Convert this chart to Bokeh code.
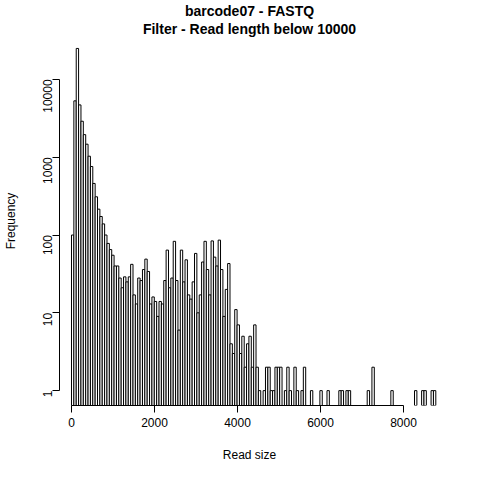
import math
from bokeh.plotting import figure
from bokeh.models import Title, FixedTicker
from bokeh.embed import file_html
from bokeh.resources import INLINE

bin_width = 57
# counts per bin
dense_counts = [100, 5300, 25000, 4700, 2900, 1950, 1470, 1030, 760, 460, 310, 215, 173, 139, 100,
                78, 65, 55, 40, 40, 28, 21, 29, 25, 29, 42, 17, 13, 28, 26, 36, 49, 34, 13, 16, 14,
                9, 14, 13, 26, 64, 21, 28, 83, 26, 6, 64, 25, 48, 17, 15, 25, 58, 10, 17, 45, 83,
                36, 17, 84, 52, 40,
                86, 36, 9, 20, 43, 4, 3, 11, 7, 3, 5, 2, 4, 5, 2, 7, 2]
sparse_bins = [79, 81, 82, 83, 84, 85, 86, 87, 88, 90, 91, 92, 94, 95, 97, 98, 101, 105, 108,
               113, 114, 116, 117, 125, 127, 135, 145, 148, 149, 152, 153]
sparse_counts = [1, 1, 2, 2, 1, 1, 2, 2, 2, 1, 2, 1, 2, 1, 1, 2, 1, 1, 1,
                 1, 1, 1, 1, 1, 2, 1, 1, 1, 1, 1, 1]

bins = list(range(len(dense_counts))) + sparse_bins
counts = dense_counts + sparse_counts
lefts = [b * bin_width for b in bins]
rights = [(b + 1) * bin_width for b in bins]
bottom = 0.644

p = figure(width=464, height=464, y_axis_type="log", x_range=(-289, 8867), y_range=(bottom, 35600),
           output_backend="svg", toolbar_location=None,
           min_border_left=59, min_border_right=25, min_border_bottom=54, min_border_top=12)

p.add_layout(Title(text="Filter - Read length below 10000", align="center", text_font_size="14px",
                   text_font="Liberation Sans", text_font_style="bold", text_color="black",
                   standoff=0), "above")
p.add_layout(Title(text="barcode07 - FASTQ", align="center", text_font_size="14px",
                   text_font="Liberation Sans", text_font_style="bold", text_color="black",
                   standoff=0), "above")

p.quad(left=lefts, right=rights, bottom=bottom, top=counts,
       fill_color="white", line_color="black", line_width=1)

p.xgrid.visible = False
p.ygrid.visible = False
p.outline_line_color = None

p.xaxis.ticker = FixedTicker(ticks=[0, 2000, 4000, 6000, 8000])
p.xaxis.bounds = (0, 8000)
p.yaxis.ticker = FixedTicker(ticks=[1, 10, 100, 1000, 10000])
p.yaxis.bounds = (1, 10000)
p.yaxis.major_label_orientation = math.pi / 2
p.yaxis.major_label_overrides = {1: "1", 10: "10", 100: "100", 1000: "1000", 10000: "10000"}
p.xaxis.axis_label = "Read size"
p.yaxis.axis_label = "Frequency"
for ax in (p.xaxis, p.yaxis):
    ax.minor_tick_line_color = None
    ax.major_tick_in = 0
    ax.major_tick_out = 7
    ax.major_label_text_font = "Liberation Sans"
    ax.major_label_text_font_size = "12px"
    ax.major_label_text_color = "black"
    ax.axis_label_text_font = "Liberation Sans"
    ax.axis_label_text_font_size = "12px"
    ax.axis_label_text_font_style = "normal"
    ax.axis_label_text_color = "black"
    ax.axis_label_standoff = 18
    ax.axis_line_color = "black"

open("out.html", "w").write(file_html(p, INLINE))
